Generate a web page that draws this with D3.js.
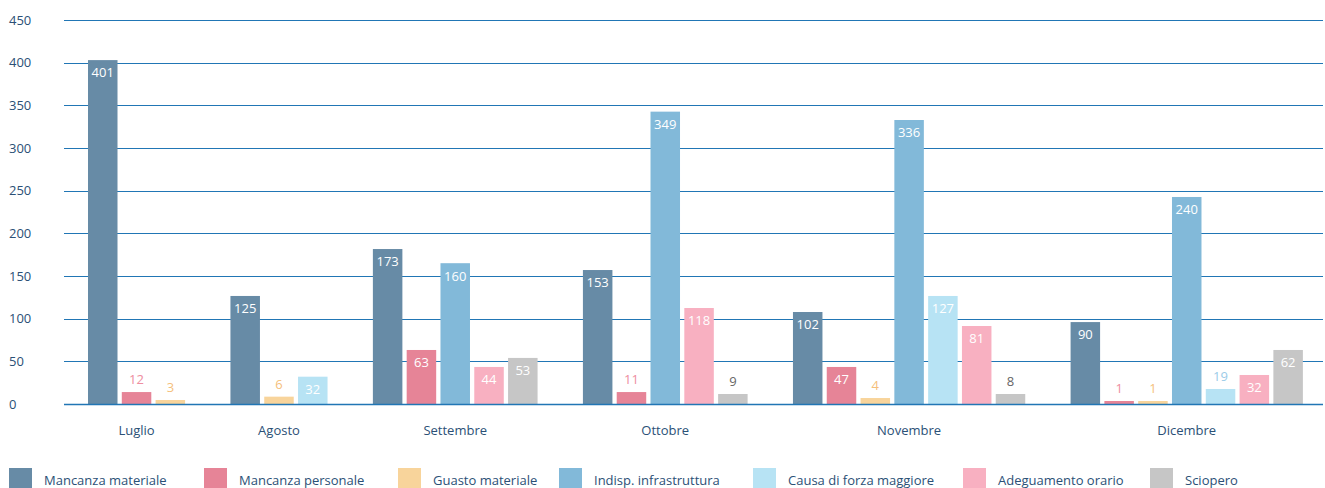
<!DOCTYPE html>
<html>
<head>
<meta charset="utf-8">
<script src="https://cdn.jsdelivr.net/npm/d3@7/dist/d3.min.js"></script>
<style>
  html, body { margin: 0; padding: 0; background: #ffffff; }
  svg { display: block; font-family: "Open Sans", "Noto Sans", sans-serif; }
</style>
</head>
<body>
<svg id="chart" width="1325" height="488"></svg>
<script>
// ---------- DATA ----------
const months = ["Luglio", "Agosto", "Settembre", "Ottobre", "Novembre", "Dicembre"];
const seriesNames = ["Mancanza materiale", "Mancanza personale", "Guasto materiale",
  "Indisp. infrastruttura", "Causa di forza maggiore", "Adeguamento orario", "Sciopero"];
const yTicks = [0, 50, 100, 150, 200, 250, 300, 350, 400, 450];

// values shown in the labels (null = no bar)
const mancanzaMateriale   = [401, 125, 173, 153, 102, 90];
const mancanzaPersonale   = [12, null, 63, 11, 47, 1];
const guastoMateriale     = [3, 6, null, null, 4, 1];
const indispInfrastruttura= [null, null, 160, 349, 336, 240];
const causaForzaMaggiore  = [null, 32, null, null, 127, 19];
const adeguamentoOrario   = [null, null, 44, 118, 81, 32];
const sciopero            = [null, null, 53, 9, 8, 62];

// bar heights as drawn in the reference
const mancanzaMaterialeBar   = [403, 126.6, 181.6, 157, 107.8, 96];
const mancanzaPersonaleBar   = [14, null, 63.3, 14, 43.4, 3.5];
const guastoMaterialeBar     = [4.7, 8.6, null, null, 7, 3.5];
const indispInfrastrutturaBar= [null, null, 165, 342.6, 332.8, 242.6];
const causaForzaMaggioreBar  = [null, 32, null, null, 126.6, 17.6];
const adeguamentoOrarioBar   = [null, null, 43.4, 112.5, 91.4, 34];
const scioperoBar            = [null, null, 54, 11.7, 11.7, 63.3];

// ---------- STYLE ----------
const colors = ["#678ba6", "#e68497", "#f8d49b", "#82b9d9", "#b7e3f4", "#f8b0c1", "#c6c6c6"];
const outsideLabelColors = ["#678ba6", "#ee8ea0", "#f5bf7c", "#82b9d9", "#9ccbe8", "#f3a0b4", "#666666"];
const textColor = "#2b5076";
const gridColor = "#2176b5";
const legendX = [9, 204, 398, 559, 753, 963, 1150];

const labelSeries = [mancanzaMateriale, mancanzaPersonale, guastoMateriale, indispInfrastruttura,
  causaForzaMaggiore, adeguamentoOrario, sciopero];
const barSeries = [mancanzaMaterialeBar, mancanzaPersonaleBar, guastoMaterialeBar, indispInfrastrutturaBar,
  causaForzaMaggioreBar, adeguamentoOrarioBar, scioperoBar];

// ---------- LAYOUT ----------
const svg = d3.select("#chart");
const plotLeft = 64, plotRight = 1323;
const y = d3.scaleLinear().domain([0, 450]).range([404, 20]);

// Bars: only non-zero entries occupy a slot; groups separated by a gap (in slot units)
const groupGap = 1.2145;
const barFrac = 0.873;
const bars = [];
const groups = [];
let slot = 0;
months.forEach((m, k) => {
  const first = slot;
  seriesNames.forEach((s, j) => {
    const v = labelSeries[j][k];
    if (v !== null && v !== undefined) {
      bars.push({ month: m, k, series: s, j, label: v, h: barSeries[j][k], u: slot + k * groupGap });
      slot++;
    }
  });
  groups.push({ month: m, center: (first + slot) / 2 + k * groupGap - (1 - barFrac) / 2 });
});
const x = d3.scaleLinear().domain([-0.71, 36.6]).range([64, 1325]);
const bw = x(barFrac) - x(0);

// gridlines
svg.append("g").selectAll("line").data(yTicks.filter(t => t > 0)).join("line")
  .attr("x1", plotLeft).attr("x2", plotRight)
  .attr("y1", d => Math.round(y(d)) + 0.5).attr("y2", d => Math.round(y(d)) + 0.5)
  .attr("stroke", gridColor).attr("stroke-width", 1.2);

// y tick labels (left aligned)
svg.append("g").selectAll("text").data(yTicks).join("text")
  .attr("x", 9).attr("y", d => y(d)).attr("dy", "0.35em")
  .attr("font-size", 13).attr("fill", textColor)
  .text(d => d);

// bars
svg.append("g").selectAll("rect").data(bars).join("rect")
  .attr("x", d => x(d.u)).attr("width", bw)
  .attr("y", d => y(d.h)).attr("height", d => y(0) - y(d.h))
  .attr("fill", d => colors[d.j]);

// baseline
svg.append("line")
  .attr("x1", plotLeft).attr("x2", plotRight)
  .attr("y1", y(0) + 0.5).attr("y2", y(0) + 0.5)
  .attr("stroke", gridColor).attr("stroke-width", 1.5);

// value labels
svg.append("g").selectAll("text").data(bars).join("text")
  .attr("x", d => x(d.u) + bw / 2)
  .attr("y", d => {
    const top = y(d.h);
    return (y(0) - top) > 22 ? top + 17.3 : top - 7.9;
  })
  .attr("text-anchor", "middle")
  .attr("font-size", 13)
  .attr("fill", d => (y(0) - y(d.h)) > 22 ? "#ffffff" : outsideLabelColors[d.j])
  .text(d => d.label);

// category labels
svg.append("g").selectAll("text").data(groups).join("text")
  .attr("x", d => x(d.center))
  .attr("y", 430).attr("dy", "0.35em")
  .attr("text-anchor", "middle")
  .attr("font-size", 13).attr("fill", textColor)
  .text(d => d.month);

// legend
const lg = svg.append("g").selectAll("g").data(seriesNames).join("g")
  .attr("transform", (d, i) => `translate(${legendX[i]},468)`);
lg.append("rect").attr("width", 23).attr("height", 23).attr("fill", (d, i) => colors[i]);
lg.append("text").attr("x", 35).attr("y", 12).attr("dy", "0.35em")
  .attr("font-size", 13).attr("fill", textColor).text(d => d);
</script>
</body>
</html>
